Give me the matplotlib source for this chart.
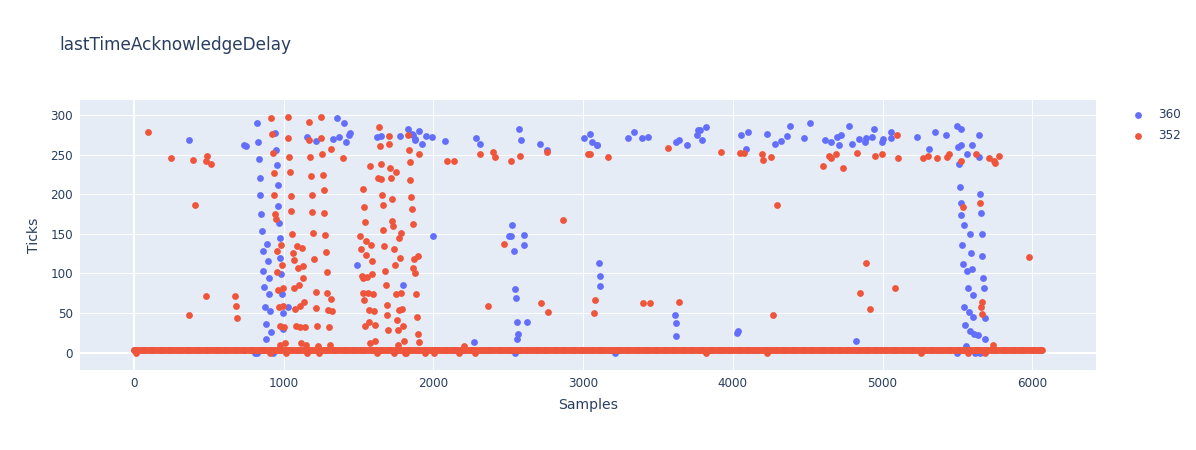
#!/usr/bin/env python3
'''lastTimeAcknowledgeDelay scatter, ticks per sample for streams 360 and 352'''
import matplotlib
matplotlib.use('Agg')
import matplotlib.pyplot as plt

title = 'lastTimeAcknowledgeDelay'
x_label = 'Samples'
y_label = 'Ticks'
x_ticks = [0, 1000, 2000, 3000, 4000, 5000, 6000]
y_ticks = [0, 50, 100, 150, 200, 250, 300]

# Stream 360, points away from the baseline
x360 = [365, 733, 750, 824, 828, 835, 839, 844, 848, 853, 888, 859, 895, 864, 900, 868, 904, 875, 908, 880,
        913, 884, 944, 948, 953, 960, 964, 969, 973, 977, 984, 989, 1029, 993, 998, 808, 820, 931, 1156, 1214,
        1327, 1372, 1358, 1403, 1443, 1438, 1414, 1490, 1621, 1652, 1779, 1833, 1859, 1877, 1795, 1862, 1875, 1904, 1922, 1953,
        1991, 2075, 2285, 2314, 2572, 2583, 2712, 2757, 3008, 3048, 3060, 3091, 3095, 3298, 3340, 3396, 3436, 3618, 3638, 3694,
        3761, 3768, 3779, 3794, 3819, 1999, 2527, 2505, 2516, 2605, 2608, 2536, 2545, 2552, 2556, 2625, 2565, 2561, 2273, 2543,
        3106, 3111, 3113, 3616, 3618, 3623, 3213, 4028, 4035, 4057, 4102, 4088, 4228, 4282, 4322, 4364, 4384, 4478, 4516, 4618,
        4654, 4696, 4723, 4712, 4774, 4798, 4841, 4888, 4881, 4930, 4941, 4997, 5006, 5059, 5057, 5230, 5308, 5353, 5422, 5500,
        5522, 5507, 5524, 5600, 5562, 5642, 5642, 5513, 5518, 5522, 5527, 5542, 5587, 5531, 5593, 5536, 5567, 5598, 5571, 5602,
        5547, 5576, 5607, 5551, 5582, 5611, 5636, 5651, 5656, 5662, 5667, 5671, 5678, 5683, 5687, 5558, 5495, 5618, 5651, 4821]
y360 = [268.5, 262.2, 261, 290.4, 266.4, 244.5, 220.6, 198.7, 174.7, 153.7, 136.8, 128, 115.8, 103, 94.8, 83, 74, 57.7, 52, 36,
        26, 17.4, 277.8, 256.3, 236.5, 211.7, 185.6, 163.8, 144.8, 119.6, 99.8, 74, 57.7, 50, 30, -1, -1, -1, 272.7, 267,
        269.4, 272.3, 296.3, 289.5, 277.8, 274.4, 266, 110.8, 272.3, 273.6, 273.6, 283, 275.7, 269.4, 85, 275, 269, 279.5, 264, 273,
        272.7, 267, 271.5, 263.5, 282.4, 268.5, 263.5, 256.3, 271.5, 276.5, 266.4, 262.6, 262.6, 271.5, 278.6, 271.5, 272.3, 266.4, 268.5, 261.8,
        274.4, 281, 281, 268.5, 285.3, 147, 161.7, 147, 147, 148.6, 136, 128, 80, 69, 39, 38, 24, 17.4, 13, 0,
        112.9, 97.3, 84.2, 48, 37, 21, -1, 24.5, 27, 275, 278.6, 257.6, 276.5, 263.5, 267, 273, 286, 270.6, 289.5, 268.5,
        266.4, 272.3, 274.4, 262, 286, 263.5, 269.4, 271.5, 265.6, 272.3, 283, 266, 269.4, 278.6, 271.5, 272.3, 257.6, 278.6, 274.4, 286,
        283, 260, 262, 262, 250.4, 275, 246.6, 238, 209.6, 188.6, 174, 160.8, 149.5, 136, 126, 112, 102.8, 105, 81, 73,
        57.7, 51, 44.7, 35, 27, 24, 22, 200.4, 176.8, 149.5, 122, 94, 81, 44, 17, 8, -1, -1, -1, 14]

# Stream 352, points away from the baseline
x352 = [96, 245, 392, 488, 481, 512, 410, 483, 677, 681, 686, 370, 917, 922, 926, 933, 938, 942, 946, 982,
        953, 986, 957, 993, 962, 969, 998, 973, 1002, 1006, 975, 1027, 1031, 1036, 1042, 1047, 1051, 1056, 1091, 1122,
        1062, 1067, 1098, 1127, 1131, 1071, 1102, 1076, 1107, 1138, 1080, 1111, 1142, 1116, 1147, 1167, 1171, 1247, 1252, 1256,
        1176, 1318, 1183, 1263, 1187, 1267, 1191, 1272, 1196, 1276, 1205, 1283, 1287, 1213, 1292, 1316, 1218, 1296, 1320, 1222,
        1300, 1227, 1307, 1398, 1637, 1701, 1706, 1641, 1833, 1577, 1648, 1712, 1748, 1632, 1650, 1717, 1837, 1842, 1846, 1532,
        1657, 1721, 1850, 1536, 1661, 1855, 1541, 1726, 1730, 1861, 1666, 1781, 1512, 1772, 1547, 1581, 1670, 1735, 1519, 1552,
        1870, 1899, 1777, 1588, 1741, 1866, 1877, 1677, 1523, 1530, 1554, 1592, 1681, 1532, 1561, 1597, 1750, 1786, 1882, 1539,
        1688, 1568, 1601, 1770, 1790, 1692, 1893, 1757, 1572, 1608, 1543, 1697, 1761, 1794, 1897, 1610, 1577, 1801, 1766, 1902,
        1904, 2089, 2140, 2309, 2398, 2414, 2518, 2579, 2761, 3031, 3046, 3166, 3569, 3919, 4048, 4073, 2470, 2866, 2367, 2719,
        2766, 3082, 3073, 3398, 3449, 3641, 2207, 4193, 4200, 4255, 4298, 4271, 4603, 4640, 4654, 4687, 4734, 4827, 4952, 4994,
        5101, 5097, 4888, 4850, 4919, 5086, 5273, 5302, 5366, 5429, 5442, 5522, 5625, 5709, 5743, 5754, 5778, 5536, 5654, 5976,
        5665, 5656, 5667, 5740, 4226, 5255, 5573, 5685, 12, 908, 1015, 1153, 1236, 1621, 1737, 1810, 1820, 1944, 2006, 2173,
        2278, 3821]
y352 = [279, 246, 243, 248, 242, 238, 186.5, 72, 71, 59, 44, 47, 296, 276.5, 252.5, 226.5, 199.5, 175.5, 168.4, 135.6,
        128, 110, 101.5, 81.7, 79.6, 57.7, 59, 33, 32.5, 12.7, 9, 297.5, 271.5, 247.5, 227.7, 197.4, 178.5, 149.5, 134, 132.6,
        126.3, 117.5, 107.4, 109, 94.8, 81.7, 85, 54.8, 59, 64, 33, 32, 32, 12, 9, 291, 269, 297, 270.6, 250.4,
        246.6, 257.6, 223.5, 224.3, 198.7, 205.4, 177.6, 176.8, 150.7, 148.6, 118, 126.7, 101.5, 76.7, 75, 67.8, 56, 54, 53, 33.8,
        32, 8, 10, 245.4, 285, 274, 264, 261.4, 274.4, 236, 238.6, 232.8, 227.7, 220.6, 219, 220.6, 255.5, 240.7, 218.5, 206.7,
        198.7, 193.6, 196.6, 183.5, 186.5, 181.4, 164.6, 166.7, 160, 162.5, 154.5, 151.6, 147, 144.8, 141, 136, 134, 131.4, 130.5, 123.8,
        118.5, 122, 119.6, 115.8, 110.8, 107, 100.6, 103, 97.3, 94, 95.6, 99, 85, 75, 75, 73.7, 73.7, 75, 74.6, 66,
        60, 54, 52, 54, 54.8, 48, 45, 41.3, 39, 35, 33, 28, 28, 33, 23, 15, 12, 14, 9, 13,
        250.4, 241.6, 242.4, 250.4, 253.8, 247.5, 242.4, 248.3, 253.8, 250.4, 250.4, 247.5, 258.4, 253.6, 252.5, 251.7, 136.8, 167.5, 59, 62.8,
        51, 67, 50, 62, 63, 64, 7.7, 250.4, 243.3, 246.6, 186.5, 48, 235.7, 248.3, 245.4, 250.4, 233.6, 252.5, 248.3, 250.4,
        245.8, 274.4, 113.7, 75, 55, 81.7, 245.8, 248.3, 245.8, 247.5, 250.4, 242.4, 250.4, 245.8, 241.6, 240, 248.3, 184, 188.6, 120.8,
        64, 57, 49, 9, 0, 0, -1, -1, 0, 0, 0, 0, 0, 0, 0, 0, 0, 0, 0, 0,
        0, 0]

# Baseline readings, the flat band near zero ticks
x360_base = [3, 61, 118, 182, 240, 305, 362, 428, 487, 551, 612, 668, 733, 790, 856, 911, 977, 1034, 1098, 1155,
             1221, 1283, 1340, 1406, 1462, 1529, 1587, 1650, 1709, 1772, 1830, 1896, 1951, 2018, 2076, 2139, 2201, 2258, 2324, 2381,
             2447, 2505, 2569, 2627, 2690, 2748, 2814, 2871, 2936, 2995, 3058, 3116, 3182, 3239, 3304, 3362, 3425, 3486, 3547, 3609,
             3671, 3728, 3794, 3852, 3917, 3975, 4038, 4099, 4161, 4220, 4286, 4343, 4408, 4466, 4530, 4588, 4653, 4711, 4772, 4834,
             4897, 4955, 5019, 5078, 5143, 5200, 5264, 5323, 5388, 5445, 5509, 5568, 5631, 5690, 5752, 5813, 5876, 5934, 5998, 6057]
y360_base = [3.6, 3, 3.6, 3.6, 3, 3.6, 3, 3.6, 3.6, 3, 3.6, 3, 3, 3.6, 3.6, 3, 3.6, 3, 3.6, 3.6,
             3, 3.6, 3, 3.6, 3.6, 3, 3, 3.6, 3, 3.6, 3.6, 3, 3.6, 3.6, 3, 3.6, 3, 3, 3.6, 3.6,
             3, 3.6, 3.6, 3, 3.6, 3, 3.6, 3.6, 3, 3.6, 3, 3, 3.6, 3.6, 3, 3.6, 3, 3.6, 3.6, 3,
             3.6, 3, 3.6, 3.6, 3, 3, 3.6, 3.6, 3, 3.6, 3, 3.6, 3, 3.6, 3.6, 3, 3.6, 3.6, 3, 3.6,
             3, 3.6, 3.6, 3, 3, 3.6, 3.6, 3, 3.6, 3, 3.6, 3.6, 3, 3.6, 3, 3, 3.6, 3.6, 3, 3.6]
x352_base = [0, 6, 28, 53, 77, 104, 127, 153, 178, 201, 229, 252, 278, 303, 326, 354, 377, 402, 428, 451,
             479, 502, 527, 553, 576, 604, 626, 652, 678, 701, 729, 751, 777, 803, 826, 852, 877, 901, 928, 951,
             977, 1003, 1026, 1052, 1076, 1101, 1127, 1150, 1176, 1202, 1225, 1251, 1276, 1300, 1327, 1350, 1376, 1402, 1425, 1451,
             1476, 1500, 1526, 1550, 1576, 1601, 1625, 1651, 1675, 1700, 1726, 1749, 1775, 1801, 1824, 1850, 1875, 1899, 1926, 1949,
             1975, 2001, 2024, 2050, 2075, 2099, 2125, 2149, 2175, 2200, 2224, 2250, 2274, 2299, 2325, 2348, 2374, 2400, 2423, 2449,
             2474, 2498, 2524, 2548, 2574, 2599, 2623, 2649, 2673, 2698, 2724, 2747, 2773, 2799, 2822, 2848, 2873, 2897, 2923, 2947,
             2973, 2998, 3022, 3048, 3072, 3097, 3123, 3146, 3172, 3198, 3221, 3247, 3272, 3296, 3322, 3346, 3372, 3397, 3421, 3447,
             3471, 3496, 3522, 3545, 3571, 3597, 3620, 3646, 3671, 3695, 3721, 3745, 3771, 3796, 3820, 3846, 3870, 3895, 3921, 3944,
             3970, 3996, 4019, 4045, 4070, 4094, 4120, 4144, 4170, 4195, 4219, 4245, 4269, 4294, 4320, 4343, 4369, 4395, 4418, 4444,
             4469, 4493, 4519, 4543, 4569, 4594, 4618, 4644, 4668, 4693, 4719, 4742, 4768, 4794, 4817, 4843, 4868, 4892, 4918, 4942,
             4968, 4993, 5017, 5043, 5067, 5092, 5118, 5141, 5167, 5193, 5216, 5242, 5267, 5291, 5317, 5341, 5367, 5392, 5416, 5442,
             5466, 5491, 5517, 5540, 5566, 5592, 5615, 5641, 5666, 5690, 5716, 5740, 5766, 5791, 5815, 5841, 5865, 5890, 5916, 5939,
             5965, 5991, 6014, 6036, 6052, 6063]
y352_base = [3.6, 3.6, 3.6, 3.6, 3.6, 3.6, 3.6, 3.6, 3.6, 3.6, 3.6, 3.6, 3.6, 3.6, 3.6, 3.6, 3.6, 3.6, 3.6, 3.6,
             3.6, 3.6, 3.6, 3.6, 3.6, 3.6, 3.6, 3.6, 3.6, 3.6, 3.6, 3.6, 3.6, 3.6, 3.6, 3.6, 3.6, 3.6, 3.6, 3.6,
             3.6, 3.6, 3.6, 3.6, 3.6, 3.6, 3.6, 3.6, 3.6, 3.6, 3.6, 3.6, 3.6, 3.6, 3.6, 3.6, 3.6, 3.6, 3.6, 3.6,
             3.6, 3.6, 3.6, 3.6, 3.6, 3.6, 3.6, 3.6, 3.6, 3.6, 3.6, 3.6, 3.6, 3.6, 3.6, 3.6, 3.6, 3.6, 3.6, 3.6,
             3.6, 3.6, 3.6, 3.6, 3.6, 3.6, 3.6, 3.6, 3.6, 3.6, 3.6, 3.6, 3.6, 3.6, 3.6, 3.6, 3.6, 3.6, 3.6, 3.6,
             3.6, 3.6, 3.6, 3.6, 3.6, 3.6, 3.6, 3.6, 3.6, 3.6, 3.6, 3.6, 3.6, 3.6, 3.6, 3.6, 3.6, 3.6, 3.6, 3.6,
             3.6, 3.6, 3.6, 3.6, 3.6, 3.6, 3.6, 3.6, 3.6, 3.6, 3.6, 3.6, 3.6, 3.6, 3.6, 3.6, 3.6, 3.6, 3.6, 3.6,
             3.6, 3.6, 3.6, 3.6, 3.6, 3.6, 3.6, 3.6, 3.6, 3.6, 3.6, 3.6, 3.6, 3.6, 3.6, 3.6, 3.6, 3.6, 3.6, 3.6,
             3.6, 3.6, 3.6, 3.6, 3.6, 3.6, 3.6, 3.6, 3.6, 3.6, 3.6, 3.6, 3.6, 3.6, 3.6, 3.6, 3.6, 3.6, 3.6, 3.6,
             3.6, 3.6, 3.6, 3.6, 3.6, 3.6, 3.6, 3.6, 3.6, 3.6, 3.6, 3.6, 3.6, 3.6, 3.6, 3.6, 3.6, 3.6, 3.6, 3.6,
             3.6, 3.6, 3.6, 3.6, 3.6, 3.6, 3.6, 3.6, 3.6, 3.6, 3.6, 3.6, 3.6, 3.6, 3.6, 3.6, 3.6, 3.6, 3.6, 3.6,
             3.6, 3.6, 3.6, 3.6, 3.6, 3.6, 3.6, 3.6, 3.6, 3.6, 3.6, 3.6, 3.6, 3.6, 3.6, 3.6, 3.6, 3.6, 3.6, 3.6,
             3.6, 3.6, 3.6, 3.6, 3.6, 3.6]
# More of the band, it is too dense in the picture to tell one reading from the next
x352_fill = [15, 40, 66, 90, 116, 140, 165, 190, 215, 240, 265, 290, 315, 340, 365, 390, 415, 440, 465, 490,
             515, 540, 565, 590, 615, 640, 665, 690, 715, 740, 765, 790, 815, 840, 865, 890, 915, 940, 965, 990,
             1015, 1040, 1064, 1089, 1114, 1139, 1163, 1189, 1214, 1238, 1264, 1288, 1314, 1339, 1363, 1389, 1414, 1438, 1464, 1488,
             1513, 1538, 1563, 1588, 1613, 1638, 1663, 1688, 1713, 1738, 1762, 1788, 1813, 1837, 1862, 1887, 1912, 1937, 1962, 1988,
             2012, 2037, 2062, 2087, 2112, 2137, 2162, 2187, 2212, 2237, 2262, 2287, 2312, 2336, 2361, 2387, 2412, 2436, 2461, 2486,
             2511, 2536, 2561, 2586, 2611, 2636, 2661, 2686, 2711, 2736, 2760, 2786, 2811, 2835, 2860, 2885, 2910, 2935, 2960, 2985,
             3010, 3035, 3060, 3085, 3110, 3135, 3160, 3185, 3210, 3234, 3259, 3284, 3309, 3334, 3359, 3384, 3409, 3434, 3459, 3484,
             3509, 3534, 3558, 3584, 3609, 3633, 3658, 3683, 3708, 3733, 3758, 3783, 3808, 3833, 3858, 3883, 3908, 3932, 3957, 3983,
             4007, 4032, 4057, 4082, 4107, 4132, 4157, 4182, 4207, 4232, 4257, 4282, 4307, 4331, 4356, 4382, 4406, 4431, 4456, 4481,
             4506, 4531, 4556, 4581, 4606, 4631, 4656, 4681, 4706, 4730, 4755, 4780, 4805, 4830, 4855, 4880, 4905, 4930, 4955, 4980,
             5005, 5030, 5055, 5080, 5105, 5129, 5154, 5179, 5204, 5229, 5254, 5279, 5304, 5329, 5354, 5379, 5404, 5429, 5454, 5479,
             5504, 5528, 5553, 5579, 5603, 5628, 5653, 5678, 5703, 5728, 5753, 5778, 5803, 5828, 5853, 5878, 5903, 5927, 5952, 5978,
             6002, 6025, 6044, 6058]
y352_fill = [2.7, 2.7, 2.7, 2.7, 2.7, 2.7, 2.7, 2.7, 2.7, 2.7, 2.7, 2.7, 2.7, 2.7, 2.7, 2.7, 2.7, 2.7, 2.7, 2.7,
             2.7, 2.7, 2.7, 2.7, 2.7, 2.7, 2.7, 2.7, 2.7, 2.7, 2.7, 2.7, 2.7, 2.7, 2.7, 2.7, 2.7, 2.7, 2.7, 2.7,
             2.7, 2.7, 2.7, 2.7, 2.7, 2.7, 2.7, 2.7, 2.7, 2.7, 2.7, 2.7, 2.7, 2.7, 2.7, 2.7, 2.7, 2.7, 2.7, 2.7,
             2.7, 2.7, 2.7, 2.7, 2.7, 2.7, 2.7, 2.7, 2.7, 2.7, 2.7, 2.7, 2.7, 2.7, 2.7, 2.7, 2.7, 2.7, 2.7, 2.7,
             2.7, 2.7, 2.7, 2.7, 2.7, 2.7, 2.7, 2.7, 2.7, 2.7, 2.7, 2.7, 2.7, 2.7, 2.7, 2.7, 2.7, 2.7, 2.7, 2.7,
             2.7, 2.7, 2.7, 2.7, 2.7, 2.7, 2.7, 2.7, 2.7, 2.7, 2.7, 2.7, 2.7, 2.7, 2.7, 2.7, 2.7, 2.7, 2.7, 2.7,
             2.7, 2.7, 2.7, 2.7, 2.7, 2.7, 2.7, 2.7, 2.7, 2.7, 2.7, 2.7, 2.7, 2.7, 2.7, 2.7, 2.7, 2.7, 2.7, 2.7,
             2.7, 2.7, 2.7, 2.7, 2.7, 2.7, 2.7, 2.7, 2.7, 2.7, 2.7, 2.7, 2.7, 2.7, 2.7, 2.7, 2.7, 2.7, 2.7, 2.7,
             2.7, 2.7, 2.7, 2.7, 2.7, 2.7, 2.7, 2.7, 2.7, 2.7, 2.7, 2.7, 2.7, 2.7, 2.7, 2.7, 2.7, 2.7, 2.7, 2.7,
             2.7, 2.7, 2.7, 2.7, 2.7, 2.7, 2.7, 2.7, 2.7, 2.7, 2.7, 2.7, 2.7, 2.7, 2.7, 2.7, 2.7, 2.7, 2.7, 2.7,
             2.7, 2.7, 2.7, 2.7, 2.7, 2.7, 2.7, 2.7, 2.7, 2.7, 2.7, 2.7, 2.7, 2.7, 2.7, 2.7, 2.7, 2.7, 2.7, 2.7,
             2.7, 2.7, 2.7, 2.7, 2.7, 2.7, 2.7, 2.7, 2.7, 2.7, 2.7, 2.7, 2.7, 2.7, 2.7, 2.7, 2.7, 2.7, 2.7, 2.7,
             2.7, 2.7, 2.7, 2.7]


def main():
    ''' Builds the Graph for us '''
    plt.rcParams['font.family'] = ['DejaVu Sans']
    ink = '#2a3f5f'
    blue = '#636efa'
    red = '#ef553b'

    fig = plt.figure(figsize=(11.96, 4.5), dpi=100)
    ax = fig.add_axes([80 / 1196, 1 - 370 / 450, 1016 / 1196, 270 / 450])
    ax.set_facecolor('#e5ecf6')
    for spine in ax.spines.values():
        spine.set_visible(False)

    # Plot area limits
    ax.set_xlim(-361, 6426)
    ax.set_ylim(-22, 319)
    ax.set_xticks(x_ticks)
    ax.set_yticks(y_ticks)
    ax.grid(color='white', linewidth=0.75)
    ax.set_axisbelow(True)
    ax.axhline(0, color='white', linewidth=1.45, zorder=1)
    ax.axvline(0, color='white', linewidth=1.45, zorder=1)
    ax.tick_params(length=0, labelsize=8.64, labelcolor=ink, pad=5)

    # Series 360 goes under series 352
    size = 24
    ax.scatter(x360_base + x360, y360_base + y360, s=size, color=blue, linewidths=0, zorder=3, label='360')
    ax.scatter(x352_base + x352_fill + x352, y352_base + y352_fill + y352, s=size, color=red, linewidths=0, zorder=4, label='352')

    ax.set_xlabel(x_label, fontsize=10.08, color=ink, labelpad=6)
    ax.set_ylabel(y_label, fontsize=10.08, color=ink, labelpad=7)
    fig.text(59.5 / 1196, 1 - 45 / 450, title, fontsize=12.2, color=ink, va='center')

    ax.legend(loc='upper left', bbox_to_anchor=(1127 / 1196, 1 - 108 / 450), bbox_transform=fig.transFigure,
              frameon=False, fontsize=8.64, labelcolor=ink, borderpad=0, borderaxespad=0, handletextpad=0.8,
              labelspacing=0.65, handlelength=1.8)

    plt.savefig('out.png', dpi=100)


if __name__ == "__main__":
    main()
